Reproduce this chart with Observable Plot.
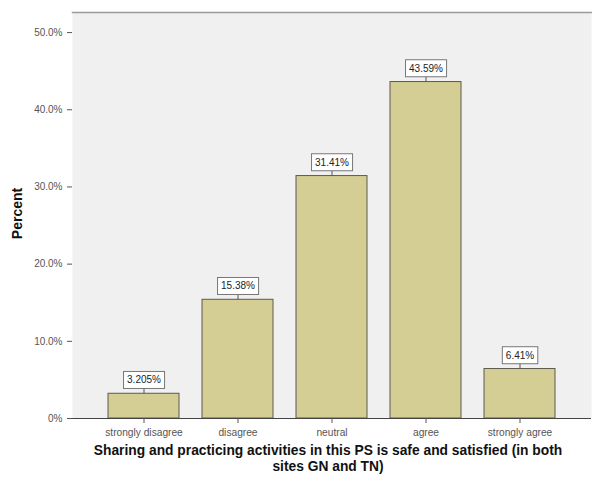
<!DOCTYPE html>
<html>
<head>
<meta charset="utf-8">
<script src="https://cdn.jsdelivr.net/npm/d3@7"></script>
<script src="https://cdn.jsdelivr.net/npm/@observablehq/plot@0.6"></script>
<style>
  html, body { margin: 0; padding: 0; background: #ffffff; }
  #chart svg { display: block; }
</style>
</head>
<body>
<div id="chart"></div>
<script>
const categories = ["strongly disagree", "disagree", "neutral", "agree", "strongly agree"];
const percents = [3.205, 15.38, 31.41, 43.59, 6.41];
const valueLabels = ["3.205%", "15.38%", "31.41%", "43.59%", "6.41%"];
const yTicks = [0, 10, 20, 30, 40, 50];
const yTickLabels = ["0%", "10.0%", "20.0%", "30.0%", "40.0%", "50.0%"];
const xTitle = "Sharing and practicing activities in this PS is safe and satisfied (in both\nsites GN and TN)";
const yTitle = "Percent";

const data = categories.map((c, i) => ({cat: c, v: percents[i], label: valueLabels[i]}));
const font = "Liberation Sans, Arial, sans-serif";

const chart = Plot.plot({
  width: 592,
  height: 477,
  marginTop: 12,
  marginBottom: 59,
  marginLeft: 72,
  marginRight: 1,
  style: {fontFamily: font, background: "#ffffff"},
  x: {domain: categories, paddingInner: 0.25, paddingOuter: 0.38, label: null},
  y: {domain: [0, 52.6], label: null},
  marks: [
    Plot.frame({fill: "#f0f0f0", stroke: null}),
    Plot.frame({anchor: "top", stroke: "#9a9a9a", strokeWidth: 1.5}),
    Plot.barY(data, {x: "cat", y: "v", fill: "#d4cd94", stroke: "#5a5a50", strokeWidth: 1}),
    Plot.ruleX(data, {x: "cat", y1: "v", y2: "v", insetTop: -5, stroke: "#555", strokeWidth: 1}),
    Plot.text(data, {x: "cat", y: "v", text: "label", dy: -13.5, fontSize: 10, fill: "#222"}),
    Plot.ruleX([0], {stroke: "#555", strokeWidth: 1}),
    Plot.ruleY([0], {stroke: "#444", strokeWidth: 1}),
    Plot.axisY(yTicks, {tickSize: 5, tickPadding: 5, fontSize: 10, fill: "#555", stroke: "#555",
      tickFormat: (d) => yTickLabels[yTicks.indexOf(d)], label: null}),
    Plot.axisX(categories, {tickSize: 5, tickPadding: 5, fontSize: 10.2, fill: "#555", stroke: "#555", label: null}),
    Plot.text([xTitle], {frameAnchor: "bottom", dy: 52, dx: -4, fontSize: 13.8, fontWeight: "bold", fill: "#111", lineHeight: 1.1}),
    Plot.text([yTitle], {frameAnchor: "left", textAnchor: "middle", rotate: -90, dx: -55, dy: -2, fontSize: 14, fontWeight: "bold", fill: "#111"})
  ]
});

document.getElementById("chart").appendChild(chart);

// white boxes behind the value labels
const svgNS = "http://www.w3.org/2000/svg";
chart.querySelectorAll("text").forEach((t) => {
  if (!valueLabels.includes(t.textContent)) return;
  const bb = t.getBBox();
  const r = document.createElementNS(svgNS, "rect");
  const padX = 3.5, h = 17;
  r.setAttribute("x", bb.x - padX);
  r.setAttribute("y", bb.y + bb.height / 2 - h / 2);
  r.setAttribute("width", bb.width + 2 * padX);
  r.setAttribute("height", h);
  r.setAttribute("fill", "#ffffff");
  r.setAttribute("stroke", "#777");
  r.setAttribute("stroke-width", "1");
  const tr = t.getAttribute("transform");
  if (tr) r.setAttribute("transform", tr);
  t.parentNode.insertBefore(r, t);
});
</script>
</body>
</html>
